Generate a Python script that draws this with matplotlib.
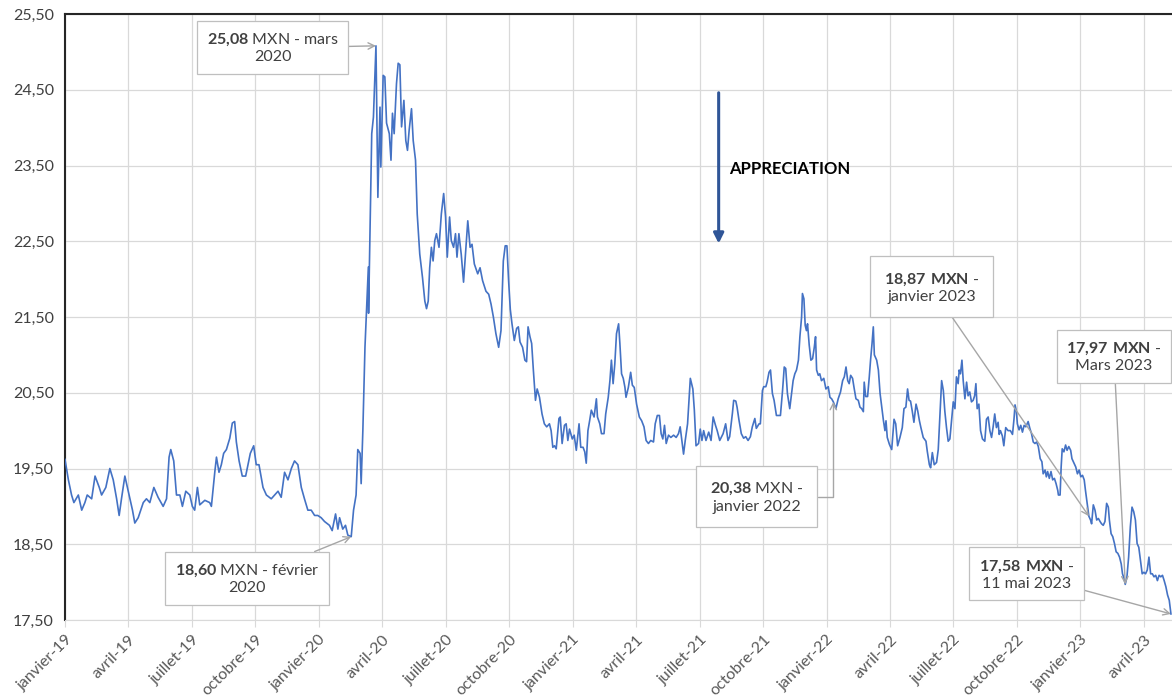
import numpy as np
import matplotlib
matplotlib.use("Agg")
import matplotlib.pyplot as plt

plt.rcParams['font.family'] = ['Lato', 'DejaVu Sans']
plt.rcParams['mathtext.fontset'] = 'custom'
plt.rcParams['mathtext.rm'] = 'Lato'
plt.rcParams['mathtext.bf'] = 'Lato:bold'

# cours USD/MXN (x = mois depuis janvier 2019)
mois = [
    0.00, 0.16, 0.31, 0.42, 0.63, 0.79, 0.94, 1.05, 1.26, 1.42, 1.62, 1.73, 1.93, 2.12, 2.28, 2.44,
    2.56, 2.67, 2.83, 2.99, 3.19, 3.30, 3.46, 3.70, 3.85, 4.01, 4.20, 4.40, 4.64, 4.80, 4.92, 5.00,
    5.14, 5.27, 5.43, 5.55, 5.71, 5.90, 6.02, 6.13, 6.26, 6.37, 6.61, 6.84, 6.92, 7.08, 7.16, 7.28,
    7.39, 7.50, 7.63, 7.79, 7.91, 8.02, 8.10, 8.23, 8.38, 8.54, 8.65, 8.76, 8.92, 9.04, 9.17, 9.36,
    9.52, 9.75, 9.91, 10.07, 10.22, 10.38, 10.54, 10.70, 10.85, 11.01, 11.17, 11.32, 11.48, 11.64,
    11.80, 11.95, 12.11, 12.27, 12.50, 12.63, 12.79, 12.90, 12.98, 13.13, 13.26, 13.37, 13.53, 13.64,
    13.76, 13.84, 13.95, 14.00, 14.08,
    14.18, 14.34, 14.35, 14.50, 14.58, 14.70, 14.79, 14.89, 14.93, 15.04, 15.12, 15.20, 15.33, 15.41,
    15.48, 15.56, 15.67, 15.75, 15.83, 15.91, 16.02, 16.11, 16.19, 16.27, 16.38, 16.46, 16.57, 16.65,
    16.77, 16.90, 17.01, 17.09, 17.17, 17.24, 17.32, 17.40, 17.48, 17.56, 17.68, 17.79, 17.90, 17.99,
    18.07, 18.18, 18.26, 18.37, 18.46, 18.53, 18.62, 18.73, 18.84, 18.93, 19.04, 19.15, 19.24, 19.35,
    19.51, 19.62, 19.74, 19.90, 20.03, 20.14, 20.25, 20.37, 20.50, 20.61, 20.72, 20.81, 20.89, 20.97,
    21.05, 21.13, 21.24, 21.35, 21.43, 21.51, 21.63, 21.74, 21.82, 21.89, 21.98, 22.06, 22.14, 22.24,
    22.32, 22.43, 22.55, 22.66, 22.77, 22.90, 22.98, 23.06, 23.14, 23.22, 23.35, 23.41, 23.50, 23.61,
    23.69, 23.77, 23.85, 23.98, 24.07, 24.17, 24.30, 24.38, 24.49, 24.57, 24.64, 24.72, 24.80, 24.88,
    25.01, 25.12, 25.17, 25.28, 25.36, 25.48, 25.56, 25.68, 25.76, 25.83, 25.91, 25.99, 26.07, 26.17,
    26.23, 26.31, 26.39, 26.47, 26.52, 26.63, 26.74, 26.82, 26.91, 27.02, 27.15, 27.26, 27.37, 27.47,
    27.58, 27.69, 27.82, 27.90, 28.00, 28.10, 28.18, 28.26, 28.34, 28.42, 28.53, 28.64, 28.77, 28.89,
    29.00, 29.08, 29.16, 29.24, 29.32, 29.43, 29.56, 29.68, 29.75, 29.83, 29.95, 30.03, 30.11, 30.19,
    30.30, 30.43, 30.54, 30.64, 30.75, 30.83,
    30.95, 31.11, 31.23, 31.34, 31.42, 31.55, 31.61, 31.71, 31.77, 31.86, 31.97, 32.08, 32.18, 32.29,
    32.40, 32.49, 32.61, 32.68, 32.81, 32.87, 32.97, 33.03, 33.13, 33.19, 33.28, 33.35, 33.44, 33.52,
    33.63, 33.71, 33.82, 33.92, 34.00, 34.07, 34.15, 34.26, 34.34, 34.42, 34.50, 34.58, 34.67, 34.74,
    34.82, 34.86, 34.93, 34.99, 35.05, 35.10, 35.18, 35.26, 35.34, 35.42, 35.48, 35.53, 35.61, 35.68,
    35.76, 35.87, 35.97, 36.08, 36.16, 36.24, 36.32, 36.44, 36.55, 36.66, 36.76, 36.84, 36.92, 37.00,
    37.07, 37.14, 37.23, 37.31, 37.39, 37.50, 37.58, 37.66, 37.74, 37.78, 37.85, 37.94, 38.02, 38.08,
    38.15, 38.21, 38.26, 38.37, 38.45,
    38.53, 38.61, 38.69, 38.76, 38.81, 38.87, 38.97, 39.08, 39.19, 39.27, 39.36, 39.47, 39.58, 39.66,
    39.75, 39.83, 39.90, 39.97, 40.05, 40.13, 40.23, 40.31, 40.39, 40.46, 40.57, 40.70, 40.76, 40.86,
    40.92, 41.00, 41.09, 41.20, 41.28, 41.36, 41.44, 41.52, 41.59, 41.67, 41.75, 41.83, 41.91, 41.99,
    42.07, 42.14, 42.22, 42.27, 42.33, 42.40, 42.46, 42.54, 42.62, 42.69, 42.77, 42.85, 42.93, 43.00,
    43.06, 43.12, 43.20, 43.28, 43.37, 43.48, 43.56, 43.64, 43.72, 43.80, 43.87, 43.95, 44.03, 44.11,
    44.16, 44.22, 44.31, 44.38, 44.47, 44.58, 44.69, 44.79, 44.86, 44.91, 44.97,
    45.02, 45.10, 45.18, 45.26, 45.34, 45.42, 45.53, 45.61, 45.69, 45.77, 45.85, 45.93, 46.01, 46.10,
    46.18, 46.24, 46.33, 46.39, 46.45, 46.53, 46.61, 46.69, 46.77, 46.85, 46.93, 46.96, 47.04, 47.09,
    47.14, 47.22, 47.30, 47.37, 47.45, 47.54, 47.60, 47.70, 47.78, 47.86, 47.94, 48.02, 48.10, 48.18,
    48.24, 48.32, 48.40, 48.48, 48.53, 48.61, 48.69, 48.77, 48.85, 48.93, 49.00, 49.08, 49.16, 49.24,
    49.32, 49.37, 49.45, 49.53, 49.61, 49.69, 49.77, 49.85, 49.93, 49.99, 50.06, 50.12, 50.20, 50.28,
    50.36, 50.44, 50.52, 50.60, 50.68, 50.76, 50.84, 50.92, 51.00, 51.08, 51.16, 51.24, 51.32, 51.40,
    51.48, 51.56, 51.64, 51.72, 51.80, 51.88, 51.96, 52.04, 52.12, 52.20, 52.28,
]
usd_mxn = [
    19.62, 19.35, 19.15, 19.05, 19.15, 18.95, 19.05, 19.15, 19.10, 19.40, 19.25, 19.15, 19.25, 19.50, 19.35, 19.10,
    18.88, 19.10, 19.40, 19.20, 18.95, 18.78, 18.85, 19.05, 19.10, 19.05, 19.25, 19.12, 19.00, 19.10, 19.65, 19.75,
    19.60, 19.15, 19.15, 19.00, 19.20, 19.15, 19.00, 18.95, 19.25, 19.02, 19.08, 19.05, 19.00, 19.45, 19.65, 19.45,
    19.55, 19.70, 19.75, 19.90, 20.10, 20.12, 19.85, 19.60, 19.40, 19.40, 19.55, 19.70, 19.80, 19.55, 19.55, 19.25,
    19.15, 19.10, 19.15, 19.20, 19.12, 19.45, 19.35, 19.50, 19.60, 19.55, 19.25, 19.10, 18.95, 18.95,
    18.88, 18.88, 18.85, 18.80, 18.75, 18.68, 18.90, 18.70, 18.85, 18.70, 18.75, 18.62, 18.60, 18.95,
    19.15, 19.75, 19.70, 19.30, 20.00,
    21.10, 22.16, 21.55, 23.92, 24.14, 25.08, 23.08, 24.27, 23.48, 24.69, 24.67, 24.06, 23.92, 23.57,
    24.19, 23.92, 24.58, 24.85, 24.83, 24.01, 24.36, 23.83, 23.70, 23.97, 24.25, 23.83, 23.57, 22.86,
    22.33, 22.02, 21.71, 21.61, 21.71, 22.15, 22.42, 22.24, 22.51, 22.60, 22.42, 22.86, 23.13, 22.82,
    22.29, 22.82, 22.51, 22.42, 22.60, 22.29, 22.60, 22.33, 21.96, 22.33, 22.77, 22.42, 22.46, 22.20,
    22.07, 22.15, 21.98, 21.84, 21.80, 21.67, 21.50, 21.28, 21.10, 21.32, 22.24, 22.44, 22.44, 21.98,
    21.60, 21.41, 21.19, 21.35, 21.37, 21.17, 21.10, 20.93, 20.91, 21.37, 21.24, 21.15, 20.80, 20.40,
    20.55, 20.44, 20.22, 20.09, 20.05, 20.09, 20.00, 19.78, 19.80, 19.76, 20.16, 20.18, 19.83, 20.07,
    20.09, 19.87, 20.02, 19.89, 19.94, 19.74, 20.09, 19.78, 19.78, 19.72, 19.57, 20.00, 20.13, 20.27,
    20.18, 20.42, 20.18, 20.09, 19.96, 19.96, 20.22, 20.44, 20.66, 20.93, 20.62, 20.88, 21.28, 21.41,
    21.15, 20.75, 20.69, 20.57, 20.44, 20.57, 20.77, 20.60, 20.57, 20.35, 20.18, 20.13, 20.05, 19.87,
    19.83, 19.87, 19.85, 20.09, 20.20, 20.20, 19.96, 19.89, 20.07, 19.83, 19.94, 19.91, 19.94, 19.91,
    19.96, 20.05, 19.87, 19.69, 19.87, 20.09, 20.69, 20.55, 20.27, 19.80, 19.83, 20.02, 19.87, 20.00,
    19.87, 19.98, 19.87, 20.18, 20.07, 20.00,
    19.87, 19.96, 20.09, 19.87, 19.92, 20.23, 20.40, 20.39, 20.31, 20.14, 19.96, 19.90, 19.92, 19.87,
    19.92, 20.05, 20.16, 20.03, 20.09, 20.09, 20.53, 20.58, 20.58, 20.64, 20.77, 20.80, 20.49, 20.40,
    20.20, 20.20, 20.20, 20.53, 20.84, 20.82, 20.49, 20.29, 20.47, 20.66, 20.75, 20.80, 20.93, 21.24,
    21.50, 21.81, 21.74, 21.39, 21.32, 21.41, 21.13, 20.93, 20.95, 21.10, 21.24, 20.80, 20.73, 20.75,
    20.66, 20.69, 20.55, 20.58, 20.44, 20.42, 20.38, 20.29, 20.42, 20.51, 20.66, 20.71, 20.84, 20.66,
    20.62, 20.73, 20.69, 20.55, 20.42, 20.40, 20.31, 20.29, 20.25, 20.64, 20.45, 20.45, 20.71, 20.93,
    21.15, 21.37, 21.00, 20.93, 20.80,
    20.49, 20.31, 20.13, 20.00, 20.13, 19.91, 19.82, 19.75, 20.15, 20.09, 19.80, 19.91, 20.04, 20.29,
    20.31, 20.55, 20.40, 20.39, 20.26, 20.11, 20.35, 20.26, 20.13, 20.04, 19.91, 19.86, 19.73, 19.55,
    19.51, 19.71, 19.55, 19.58, 19.75, 20.22, 20.66, 20.53, 20.26, 20.04, 19.86, 19.89, 20.13, 20.38,
    20.29, 20.71, 20.62, 20.80, 20.75, 20.93, 20.66, 20.42, 20.64, 20.46, 20.51, 20.38, 20.40, 20.46,
    20.62, 20.29, 20.35, 20.00, 19.89, 19.86, 20.15, 20.18, 20.00, 19.91, 20.04, 20.22, 20.04, 20.11,
    19.95, 20.00, 19.93, 19.80, 20.04, 20.00, 20.00, 19.95, 20.15, 20.34, 20.26,
    20.09, 20.01, 20.07, 19.98, 20.07, 20.05, 20.12, 20.03, 19.96, 19.85, 19.83, 19.85, 19.79, 19.63,
    19.59, 19.43, 19.48, 19.39, 19.46, 19.37, 19.46, 19.35, 19.37, 19.30, 19.21, 19.15, 19.15, 19.52,
    19.76, 19.72, 19.81, 19.74, 19.79, 19.74, 19.63, 19.57, 19.52, 19.43, 19.48, 19.39, 19.41, 19.35,
    19.21, 19.04, 18.87, 18.82, 18.77, 19.02, 18.95, 18.82, 18.84, 18.80, 18.77, 18.75, 18.80, 19.04,
    18.99, 18.82, 18.64, 18.60, 18.51, 18.40, 18.38, 18.33, 18.24, 18.11, 18.05, 17.97, 18.07, 18.33,
    18.73, 18.99, 18.93, 18.82, 18.51, 18.46, 18.29, 18.11, 18.13, 18.11, 18.16, 18.33, 18.11, 18.11,
    18.07, 18.09, 18.02, 18.09, 18.07, 18.09, 18.02, 17.94, 17.83, 17.76, 17.58,
]

trimestres = list(range(0, 52, 3))
labels_x = ['janvier-19', 'avril-19', 'juillet-19', 'octobre-19',
            'janvier-20', 'avril-20', 'juillet-20', 'octobre-20',
            'janvier-21', 'avril-21', 'juillet-21', 'octobre-21',
            'janvier-22', 'avril-22', 'juillet-22', 'octobre-22',
            'janvier-23', 'avril-23']
niveaux_y = np.arange(17.5, 25.51, 1.0)

fig = plt.figure(figsize=(11.72, 6.95), dpi=100)
ax = fig.add_axes([65 / 1172, 1 - 620 / 695, 1 - 65 / 1172, 606 / 695])

ax.plot(mois, usd_mxn, color='#4472C4', lw=1.2, zorder=3)

ax.set_xlim(0, 52.33)
ax.set_ylim(17.5, 25.5)
ax.set_xticks(trimestres)
ax.set_xticklabels(labels_x, rotation=45, ha='right', va='top', rotation_mode='anchor',
                   color='#595959', fontsize=11.5)
ax.set_yticks(niveaux_y)
ax.set_yticklabels([f"{v:.2f}".replace('.', ',') for v in niveaux_y], color='#404040', fontsize=11.5)
ax.tick_params(axis='x', length=5, color='#D9D9D9', pad=4)
ax.tick_params(axis='y', length=0, pad=8)
ax.grid(True, color='#D9D9D9', lw=0.9, zorder=0)

ax.spines['right'].set_visible(False)
ax.spines['bottom'].set_color('#D9D9D9')
ax.spines['left'].set_color('#262626')
ax.spines['left'].set_linewidth(1.5)
ax.spines['top'].set_color('#262626')
ax.spines['top'].set_linewidth(1.5)

boite = dict(boxstyle='square,pad=0.6', fc='white', ec='#BFBFBF', lw=0.9)
boite_large = dict(boxstyle='square,pad=0.85', fc='white', ec='#BFBFBF', lw=0.9)
fleche = dict(arrowstyle='->', color='#A6A6A6', lw=1.0, shrinkA=0, shrinkB=0)
texte = dict(ha='center', va='center', multialignment='center', fontsize=11.5, color='#404040', zorder=5)

ax.annotate('$\\mathbf{25{,}08}$ MXN - mars\n2020', xy=(14.70, 25.08), xytext=(9.83, 25.05),
            bbox=boite, arrowprops=fleche, **texte)
ax.annotate('$\\mathbf{18{,}60}$ MXN - février\n2020', xy=(13.53, 18.60), xytext=(8.60, 18.04),
            bbox=boite, arrowprops=fleche, **texte)
ax.annotate('$\\mathbf{20{,}38}$ MXN -\njanvier 2022', xy=(36.32, 20.38), xytext=(32.70, 19.12),
            bbox=boite_large, **texte,
            arrowprops=dict(fleche, connectionstyle='angle,angleA=0,angleB=90,rad=0'))
ax.annotate('$\\mathbf{18{,}87\\ MXN}$ -\njanvier 2023', xy=(48.40, 18.87), xytext=(40.97, 21.89),
            bbox=boite_large, arrowprops=fleche, **texte)
ax.annotate('$\\mathbf{17{,}97\\ MXN}$ -\nMars 2023', xy=(50.12, 17.97), xytext=(49.59, 20.97),
            bbox=boite, arrowprops=fleche, **texte)
ax.annotate('$\\mathbf{17{,}58\\ MXN}$ -\n11 mai 2023', xy=(52.28, 17.58), xytext=(45.45, 18.10),
            bbox=boite, arrowprops=fleche, annotation_clip=False, **texte)

# flèche appréciation
ax.annotate('', xy=(30.9, 22.47), xytext=(30.9, 24.46),
            arrowprops=dict(arrowstyle='-|>,head_width=0.3,head_length=0.6', color='#2F5597',
                            lw=2.2, shrinkA=0, shrinkB=0))
ax.text(31.4, 23.45, 'APPRECIATION', fontsize=12, fontweight='bold', color='black',
        ha='left', va='center')

fig.savefig('out.png', dpi=100)
